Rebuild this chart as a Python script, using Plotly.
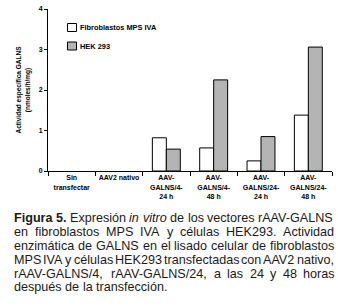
import plotly.graph_objects as go

categories = ["Sin<br>transfectar", "AAV2 nativo", "AAV-<br>GALNS/4-<br>24 h",
              "AAV-<br>GALNS/4-<br>48 h", "AAV-<br>GALNS/24-<br>24 h", "AAV-<br>GALNS/24-<br>48 h"]
fibroblastos = [0, 0, 0.82, 0.57, 0.25, 1.38]
hek293 = [0, 0, 0.54, 2.25, 0.85, 3.06]
series_names = ["Fibroblastos MPS IVA", "HEK 293"]
series_colors = ["#ffffff", "#b4b4b4"]
y_title = "<b>Actividad específica GALNS</b><br><b>(nmoles/h/mg)</b>"
caption_lines = [
    "<b>Figura</b> <b>5.</b> Expresión <i>in</i> <i>vitro</i> de los vectores rAAV-GALNS",
    "en fibroblastos MPS IVA y células HEK293. Actividad",
    "enzimática de GALNS en el lisado celular de fibroblastos",
    "MPS IVA y células HEK293 transfectadas con AAV2 nativo,",
    "rAAV-GALNS/4, rAAV-GALNS/24, a las 24 y 48 horas",
    "después de la transfección.",
]

FONT = "Liberation Sans, Arial, sans-serif"
W, H = 338, 307
ML, MR, MT, MB = 48, 6, 9, 136
PW = W - ML - MR
PH = H - MT - MB

# Arial metrics (units per 1000 em)
REG = {' ': 278, '.': 278, ',': 278, '-': 333, '/': 278, '(': 333, ')': 333}
for c, w in zip("abcdefghijklmnopqrstuvwxyz",
                [556, 556, 500, 556, 556, 278, 556, 556, 222, 222, 500, 222, 833,
                 556, 556, 556, 556, 333, 500, 278, 556, 500, 722, 500, 500, 500]):
    REG[c] = w
for c, w in zip("ABCDEFGHIJKLMNOPQRSTUVWXYZ",
                [667, 667, 722, 722, 667, 611, 778, 722, 278, 500, 667, 556, 833,
                 722, 778, 667, 778, 722, 667, 611, 722, 667, 944, 667, 667, 611]):
    REG[c] = w
for c in "0123456789":
    REG[c] = 556
REG.update({'á': 556, 'é': 556, 'ó': 556, 'í': 222})
BOLD = dict(REG)
BOLD.update({'F': 611, 'i': 278, 'g': 611, 'u': 611, 'r': 389, 'a': 556})


def word_width(word, size):
    bold = "<b>" in word
    plain = word.replace("<b>", "").replace("</b>", "").replace("<i>", "").replace("</i>", "")
    table = BOLD if bold else REG
    return sum(table.get(ch, 556) for ch in plain) * size / 1000.0


fig = go.Figure()
for name, vals, col in zip(series_names, [fibroblastos, hek293], series_colors):
    fig.add_trace(go.Bar(x=categories, y=vals, name=name, showlegend=False,
                         marker=dict(color=col,
                                     line=dict(color="black",
                                               width=[1 if v > 0 else 0 for v in vals]))))

fig.update_layout(
    width=W, height=H, margin=dict(l=ML, r=MR, t=MT, b=MB, autoexpand=False),
    paper_bgcolor="white", plot_bgcolor="white",
    barmode="group", bargap=0.41, bargroupgap=0,
    font=dict(family=FONT, color="black"),
)
fig.update_xaxes(showline=True, linecolor="black", linewidth=1, showgrid=False, automargin=False,
                 ticks="outside", tickson="boundaries", ticklen=4, tickcolor="black",
                 tickfont=dict(size=7, weight="bold"), tickangle=0, range=[-0.5, 5.5])
fig.update_yaxes(showline=True, linecolor="black", linewidth=1, showgrid=False, zeroline=False,
                 automargin=False,
                 ticks="outside", ticklen=3, tickcolor="black", range=[0, 4], dtick=1,
                 tickfont=dict(size=7, weight="bold"),
                 title=dict(text=y_title, font=dict(size=6.5), standoff=7))

# Manual legend
leg_y = [27.5, 46]
for i, (name, col) in enumerate(zip(series_names, series_colors)):
    yc = leg_y[i]
    fig.add_shape(type="rect", xref="paper", yref="paper",
                  x0=(67.5 - ML) / PW, x1=(76.5 - ML) / PW,
                  y0=(MT + PH - (yc + 4)) / PH, y1=(MT + PH - (yc - 4)) / PH,
                  fillcolor=col, line=dict(color="black", width=1))
    fig.add_annotation(text="<b>" + name + "</b>", xref="paper", yref="paper",
                       x=(79 - ML) / PW, y=(MT + PH - yc) / PH, xanchor="left", yanchor="middle",
                       showarrow=False, font=dict(size=7.4), borderpad=0)

# Caption, justified
CS = 12.6
left_px, right_px = 13, 333.5
line_y0, line_dy = 218.3, 13.8
for li, line in enumerate(caption_lines):
    words = line.split(" ")
    widths = [word_width(w, CS) for w in words]
    if li < len(caption_lines) - 1 and len(words) > 1:
        gap = (right_px - left_px - sum(widths)) / (len(words) - 1)
    else:
        gap = REG[' '] * CS / 1000.0
    x = left_px
    yc = line_y0 + li * line_dy
    for w, ww in zip(words, widths):
        fig.add_annotation(text=w, xref="paper", yref="paper",
                           x=(x - ML) / PW, y=(MT + PH - yc) / PH,
                           xanchor="left", yanchor="middle", showarrow=False,
                           font=dict(size=CS, color="#1a1a1a"), borderpad=0)
        x += ww + gap

fig.write_html("out.html", config={"displayModeBar": False},
               post_script="document.body.style.margin='0px';document.body.style.padding='0px';")
